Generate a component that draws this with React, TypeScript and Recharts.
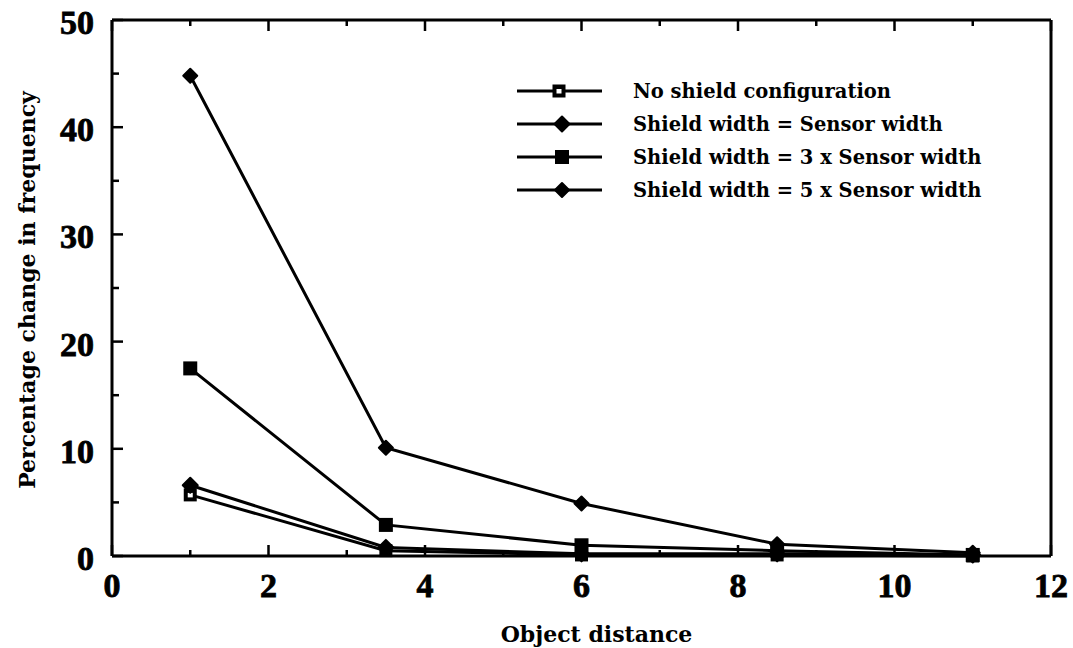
import React from 'react';
import { LineChart, Line, XAxis, YAxis, Legend, Label } from 'recharts';

const distances = [1, 3.5, 6, 8.5, 11];
const noShield = [5.7, 0.5, 0.1, 0.1, 0.0];
const shield1x = [6.6, 0.8, 0.2, 0.2, 0.1];
const shield3x = [17.5, 2.9, 1.0, 0.5, 0.1];
const shield5x = [44.8, 10.1, 4.9, 1.1, 0.3];
const seriesNames = [
  'No shield configuration',
  'Shield width = Sensor width',
  'Shield width = 3 x Sensor width',
  'Shield width = 5 x Sensor width',
];
const seriesKinds = ['hollowSquare', 'diamond', 'square', 'smallDiamond'];
const xTicks = [0, 1, 2, 3, 4, 5, 6, 7, 8, 9, 10, 11, 12];
const yTicks = [0, 5, 10, 15, 20, 25, 30, 35, 40, 45, 50];
const xTitle = 'Object distance';
const yTitle = 'Percentage change in frequency';

const data = distances.map((d, i) => ({
  x: d,
  s0: noShield[i],
  s1: shield1x[i],
  s2: shield3x[i],
  s3: shield5x[i],
}));

const FONT = "'DejaVu Serif', serif";
const TICK_FONT = "'Liberation Serif', 'Times New Roman', serif";
const BLACK = '#000';

const Marker = ({ kind, cx, cy }: { kind: string; cx: number; cy: number }) => {
  if (cx == null || cy == null) return null;
  if (kind === 'hollowSquare') {
    return (
      <g>
        <rect x={cx - 6.5} y={cy - 6.5} width={13} height={13} fill={BLACK} />
        <rect x={cx - 2.5} y={cy - 2} width={5} height={4.5} fill="#fff" />
      </g>
    );
  }
  if (kind === 'square') {
    return <rect x={cx - 7} y={cy - 7} width={14} height={14} fill={BLACK} />;
  }
  const r = kind === 'diamond' ? 7.5 : 7;
  return (
    <polygon
      points={`${cx},${cy - r} ${cx + r},${cy} ${cx},${cy + r} ${cx - r},${cy}`}
      fill={BLACK}
      stroke={BLACK}
      strokeWidth={2}
      strokeLinejoin="round"
    />
  );
};

const dotFor = (kind: string) => (p: any) => (
  <Marker key={`${kind}-${p.index}`} kind={kind} cx={p.cx} cy={p.cy} />
);

const tickTextProps = {
  fontFamily: TICK_FONT,
  fontWeight: 'bold' as const,
  fontSize: 34,
  fill: BLACK,
  stroke: BLACK,
  strokeWidth: 0.8,
};

const BottomTick = (props: any) => {
  const { x, y, payload } = props;
  const v = payload.value;
  const edge = y - 12;
  const major = v % 2 === 0;
  return (
    <g>
      <line x1={x} x2={x} y1={edge} y2={edge - (major ? 11 : 6)} stroke={BLACK} strokeWidth={2.5} />
      {major && (
        <text x={x} y={edge + 41} textAnchor="middle" {...tickTextProps}>
          {v}
        </text>
      )}
    </g>
  );
};

const TopTick = (props: any) => {
  const { x, y, payload } = props;
  const v = payload.value;
  const edge = y + 4;
  const major = v % 2 === 0;
  return <line x1={x} x2={x} y1={edge} y2={edge + (major ? 11 : 6)} stroke={BLACK} strokeWidth={2.5} />;
};

const LeftTick = (props: any) => {
  const { x, y, payload } = props;
  const v = payload.value;
  const edge = x + 16;
  const major = v % 10 === 0;
  return (
    <g>
      <line x1={edge} x2={edge + (major ? 11 : 7)} y1={y} y2={y} stroke={BLACK} strokeWidth={2.5} />
      {major && (
        <text x={x - 2} y={y + 14} textAnchor="end" {...tickTextProps}>
          {v}
        </text>
      )}
    </g>
  );
};

const RightTick = (props: any) => {
  const { x, y, payload } = props;
  const v = payload.value;
  const edge = x - 4;
  const major = v % 10 === 0;
  return <line x1={edge} x2={edge - (major ? 12 : 7)} y1={y} y2={y} stroke={BLACK} strokeWidth={2.5} />;
};

const LegendBox = () => {
  const rowY = [21, 54, 87, 120];
  return (
    <svg width={540} height={140} style={{ display: 'block' }}>
      {seriesNames.map((name, i) => (
        <g key={name}>
          <line x1={17} x2={102} y1={rowY[i]} y2={rowY[i]} stroke={BLACK} strokeWidth={3} />
          <Marker kind={seriesKinds[i]} cx={i === 0 ? 59 : 62} cy={rowY[i]} />
          <text x={133} y={rowY[i] + 7} fontFamily={FONT} fontWeight="bold" fontSize={19.5} fill={BLACK}>
            {name}
          </text>
        </g>
      ))}
    </svg>
  );
};

export default function App() {
  return (
    <div style={{ position: 'absolute', left: 0, top: 0, width: 1073, height: 648, background: '#fff' }}>
      <LineChart width={1073} height={648} data={data} margin={{ top: 0, right: 0, bottom: 4, left: 12 }}>
        <XAxis
          dataKey="x"
          type="number"
          domain={[0, 12]}
          ticks={xTicks}
          interval={0}
          height={88}
          tickSize={0}
          tickMargin={12}
          tick={<BottomTick />}
          axisLine={{ stroke: BLACK, strokeWidth: 3 }}
        >
          <Label
            content={(p: any) => {
              const vb = p.viewBox;
              return (
                <text x={vb.x + vb.width / 2 + 15} y={vb.y + 86} textAnchor="middle" fontFamily={FONT} fontWeight="bold" fontSize={22} fill={BLACK}>
                  {xTitle}
                </text>
              );
            }}
          />
        </XAxis>
        <XAxis
          xAxisId="top"
          orientation="top"
          dataKey="x"
          type="number"
          domain={[0, 12]}
          ticks={xTicks}
          interval={0}
          height={20}
          tickSize={0}
          tickMargin={4}
          tick={<TopTick />}
          axisLine={{ stroke: BLACK, strokeWidth: 3 }}
        />
        <YAxis
          type="number"
          domain={[0, 50]}
          ticks={yTicks}
          interval={0}
          width={100}
          tickSize={0}
          tickMargin={16}
          tick={<LeftTick />}
          axisLine={{ stroke: BLACK, strokeWidth: 3 }}
        >
          <Label
            content={(p: any) => {
              const vb = p.viewBox;
              const cy = vb.y + vb.height / 2 + 2;
              const cx = vb.x + 23;
              return (
                <text x={cx} y={cy} transform={`rotate(-90, ${cx}, ${cy})`} textAnchor="middle" fontFamily={FONT} fontWeight="bold" fontSize={22} fill={BLACK}>
                  {yTitle}
                </text>
              );
            }}
          />
        </YAxis>
        <YAxis
          yAxisId="right"
          orientation="right"
          type="number"
          domain={[0, 50]}
          ticks={yTicks}
          interval={0}
          width={22}
          tickSize={0}
          tickMargin={4}
          tick={<RightTick />}
          axisLine={{ stroke: BLACK, strokeWidth: 3 }}
        />
        <Legend
          layout="horizontal"
          verticalAlign="middle"
          align="center"
          wrapperStyle={{ position: 'absolute', left: 500, top: 70, width: 540, height: 140 }}
          content={() => <LegendBox />}
        />
        {['s0', 's1', 's2', 's3'].map((k, i) => (
          <Line
            key={k}
            dataKey={k}
            name={seriesNames[i]}
            stroke={BLACK}
            strokeWidth={3}
            dot={dotFor(seriesKinds[i])}
            activeDot={false}
            isAnimationActive={false}
          />
        ))}
      </LineChart>
    </div>
  );
}
